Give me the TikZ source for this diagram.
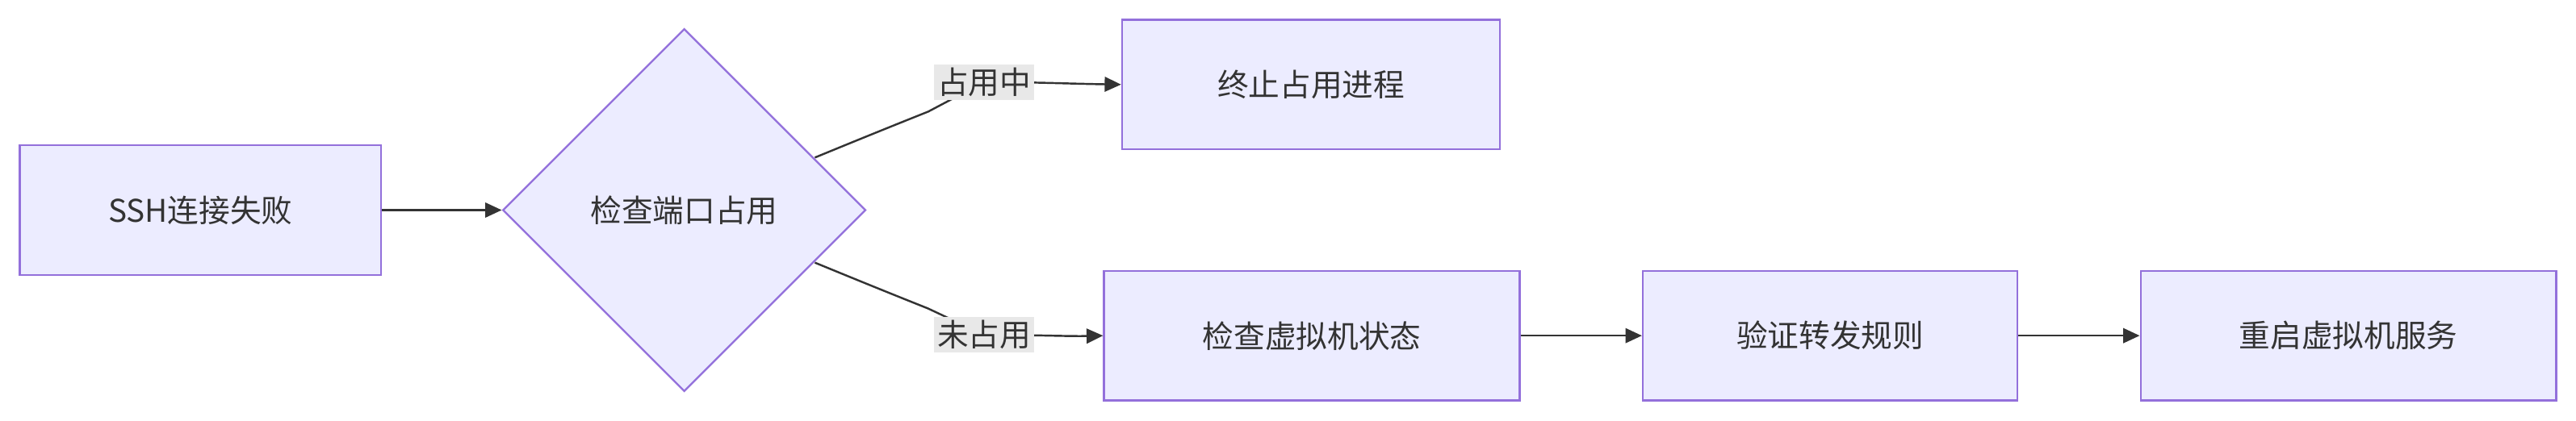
\documentclass[tikz,border=0pt]{standalone}
\usepackage{fontspec}
\setmainfont{Noto Sans CJK SC}
\usetikzlibrary{shapes.geometric,arrows.meta}
\definecolor{nfill}{HTML}{ECECFF}
\definecolor{nline}{HTML}{9370DB}
\definecolor{ntext}{HTML}{333333}
\definecolor{lbg}{HTML}{E8E8E8}
\tikzset{
  box/.style={draw=nline,fill=nfill,line width=1.2pt,text=ntext,minimum height=79pt,inner sep=0pt,font=\fontsize{19}{23}\selectfont},
  dia/.style={diamond,draw=nline,fill=nfill,line width=1.2pt,text=ntext,minimum width=221pt,minimum height=221pt,inner sep=0pt,aspect=1,font=\fontsize{19}{23}\selectfont},
  lab/.style={fill=lbg,text=ntext,inner sep=2pt,font=\fontsize{19}{23}\selectfont},
  conn/.style={draw=ntext,line width=1.2pt,-{Triangle[length=10pt,width=9pt]}},
}
\begin{document}
\begin{tikzpicture}[x=1pt,y=-1pt]
\useasboundingbox (0,0) rectangle (1568,256.5);
\node[box,minimum width=220pt] (a) at (122,128) {SSH连接失败};
\node[dia] (b) at (416.5,128) {检查端口占用};
\node[box,minimum width=230pt] (c) at (798,51.5) {终止占用进程};
\node[box,minimum width=253pt] (d) at (798.5,204.5) {检查虚拟机状态};
\node[box,minimum width=228pt] (e) at (1114,204.5) {验证转发规则};
\node[box,minimum width=253pt] (f) at (1429.5,204.5) {重启虚拟机服务};
\coordinate (b1) at (496,96);
\coordinate (b2) at (496,160);
\draw[conn] (a.east) -- (b.west);
\draw[conn] (b1) .. controls (530,82) and (550,74) .. (565,68) -- (599,50) .. controls (630,50) and (650,51) .. (c.west);
\draw[conn] (b2) .. controls (530,174) and (550,182) .. (565,188) -- (599,204) .. controls (630,204) and (650,205) .. (d.west);
\node[lab] (l1) at (599,50) {占用中};
\node[lab] (l2) at (599,204) {未占用};
\draw[conn] (d.east) -- (e.west);
\draw[conn] (e.east) -- (f.west);
\end{tikzpicture}
\end{document}
